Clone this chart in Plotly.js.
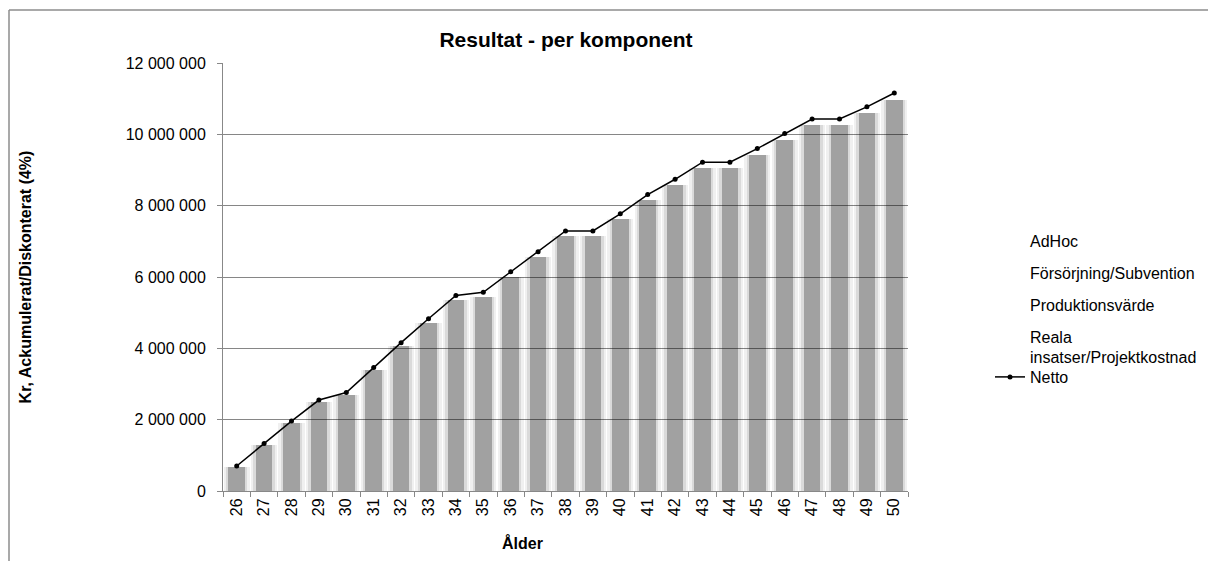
<!DOCTYPE html>
<html>
<head>
<meta charset="utf-8">
<script src="https://cdn.plot.ly/plotly-3.0.1.min.js"></script>
<style>html,body{margin:0;padding:0;background:#fff;}#chart{width:1208px;height:561px;}</style>
</head>
<body>
<div id="chart"></div>
<script>
const ages = ['26','27','28','29','30','31','32','33','34','35','36','37','38','39','40','41','42','43','44','45','46','47','48','49','50'];

const adHoc = [30000,50000,70000,90000,100000,120000,140000,160000,180000,190000,200000,220000,240000,240000,250000,270000,280000,300000,300000,310000,320000,340000,340000,350000,360000];
const forsorjning = [90000,140000,190000,250000,270000,330000,380000,430000,490000,500000,540000,590000,630000,630000,670000,710000,740000,770000,770000,800000,840000,870000,870000,900000,920000];
const produktionsvarde = [560000,1100000,1640000,2150000,2330000,2930000,3540000,4130000,4680000,4750000,5270000,5760000,6270000,6270000,6700000,7170000,7560000,7990000,7990000,8320000,8680000,9040000,9040000,9340000,9680000];
const realaInsatser = [-20000,-30000,-40000,-50000,-60000,-70000,-80000,-90000,-100000,-110000,-120000,-130000,-140000,-140000,-150000,-160000,-170000,-180000,-180000,-190000,-200000,-210000,-210000,-220000,-230000];
const netto = [700000,1330000,1960000,2550000,2760000,3460000,4160000,4830000,5480000,5570000,6150000,6710000,7290000,7290000,7770000,8310000,8740000,9220000,9220000,9600000,10020000,10430000,10430000,10770000,11160000];

const componentNames = ['AdHoc','Försörjning/Subvention','Produktionsvärde','Reala<br>insatser/Projektkostnad'];
const stackOrder = [produktionsvarde, forsorjning, adHoc, realaInsatser];
const yTicks = [0,2000000,4000000,6000000,8000000,10000000,12000000];

const FONT = 'Liberation Sans, Arial, sans-serif';
const layers = [
  {axis:'x',  width:0.96, color:'rgba(0,0,0,0.06)'},
  {axis:'x2', width:0.78, color:'rgba(0,0,0,0.09)'},
  {axis:'x3', width:0.60, color:'rgba(0,0,0,0.26)'}
];

const traces = [];
layers.forEach(L => {
  stackOrder.forEach(vals => {
    traces.push({
      type:'bar', x: ages, y: vals, xaxis: L.axis, yaxis:'y',
      width: L.width, offset: -L.width/2, marker:{color:L.color, line:{width:0}},
      showlegend:false, hoverinfo:'skip'
    });
  });
});
componentNames.forEach((n,i) => {
  traces.push({
    type:'scatter', mode:'lines', x:[null], y:[null], name:n,
    line:{color:'rgba(0,0,0,0)', width:1}, legendgroup:'g'+i,
    showlegend:true, hoverinfo:'skip', legend:'legend'
  });
});
traces.push({
  type:'scatter', mode:'lines+markers', x: ages, y: netto, name:'Netto',
  xaxis:'x3', yaxis:'y',
  line:{color:'#000', width:1.5}, marker:{color:'#000', size:5},
  legend:'legend2', hoverinfo:'skip'
});

const xCommon = {type:'category', range:[-0.5, 24.5], fixedrange:true};

const layout = {
  width:1208, height:561,
  paper_bgcolor:'#fff', plot_bgcolor:'#fff',
  font:{family:FONT, size:16, color:'#000'},
  separators:', ',
  margin:{l:223, r:300, t:63, b:70, autoexpand:false},
  barmode:'relative', bargap:0,
  showlegend:true,
  title:{text:'<b>Resultat - per komponent</b>', font:{family:FONT, size:21, color:'#000'},
         x:566/1208, xanchor:'center', xref:'container', y:1-40/561, yanchor:'middle', yref:'container'},
  xaxis: Object.assign({}, xCommon, {
    tickson:'boundaries', ticks:'outside', ticklen:5, tickcolor:'#888', tickwidth:1,
    showline:true, linecolor:'#888', linewidth:1, tickangle:-90,
    tickfont:{family:FONT, size:16, color:'#000'}, showgrid:false
  }),
  xaxis2: Object.assign({}, xCommon, {overlaying:'x', visible:false}),
  xaxis3: Object.assign({}, xCommon, {overlaying:'x', visible:false}),
  yaxis: {
    range:[0, 12000000], tickvals:yTicks, tickformat:',d', fixedrange:true,
    showgrid:true, gridcolor:'#868686', gridwidth:1, zeroline:false,
    ticks:'outside', ticklen:5, tickcolor:'#888', tickwidth:1,
    showline:true, linecolor:'#888', linewidth:1,
    tickfont:{family:FONT, size:16, color:'#000'}, ticklabelstandoff:8,
    title:{text:'<b>Kr, Ackumulerat/Diskonterat (4%)</b>', font:{family:FONT, size:16, color:'#000'}, standoff:90}
  },
  legend:{xref:'container', yref:'container', x:990/1208, xanchor:'left', y:1-224/561, yanchor:'top',
          traceorder:'grouped', tracegroupgap:8, bgcolor:'rgba(0,0,0,0)', borderwidth:0,
          font:{family:FONT, size:16, color:'#000'}},
  legend2:{xref:'container', yref:'container', x:990/1208, xanchor:'left', y:1-360/561, yanchor:'top',
          bgcolor:'rgba(0,0,0,0)', borderwidth:0, font:{family:FONT, size:16, color:'#000'}},
  annotations:[{
    text:'<b>Ålder</b>', xref:'paper', yref:'paper', x:(522-223)/685, y:(491-543)/428,
    xanchor:'center', yanchor:'middle', showarrow:false, font:{family:FONT, size:16, color:'#000'}
  }],
  shapes:[
    {type:'line', xref:'paper', yref:'paper', x0:(9-223)/685, x1:1.5, y0:(491-10)/428, y1:(491-10)/428, line:{color:'#8c8c8c', width:1.5}},
    {type:'line', xref:'paper', yref:'paper', x0:(9-223)/685, x1:(9-223)/685, y0:(491-10)/428, y1:-0.3, line:{color:'#8c8c8c', width:1.5}}
  ]
};

Plotly.newPlot('chart', traces, layout, {displayModeBar:false, staticPlot:true});
</script>
</body>
</html>
